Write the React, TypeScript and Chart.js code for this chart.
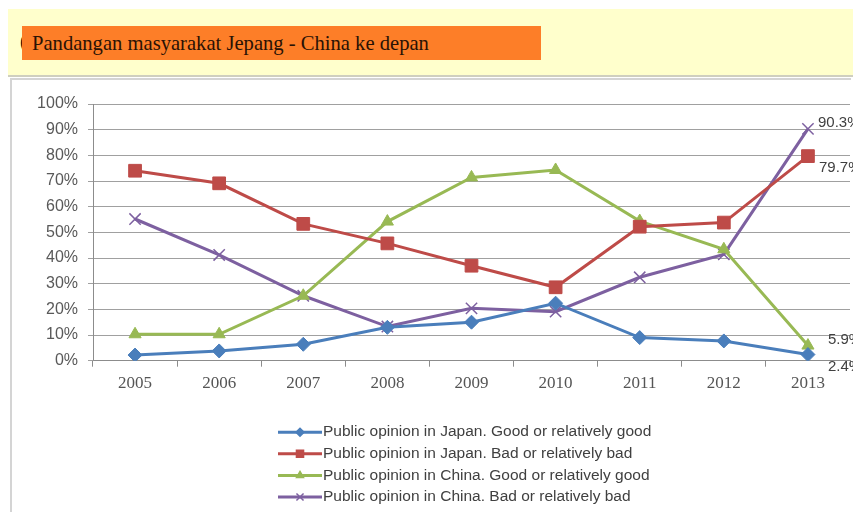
import React, { useEffect, useRef } from 'react';
import { Chart, registerables } from 'chart.js';
import { drawPoint } from 'chart.js/helpers';

Chart.register(...registerables);

const years = ['2005', '2006', '2007', '2008', '2009', '2010', '2011', '2012', '2013'];
const japanGood = [2.2, 3.8, 6.4, 13.0, 15.0, 22.4, 9.0, 7.7, 2.4];
const japanBad = [74.0, 69.1, 53.3, 45.7, 37.0, 28.6, 52.2, 53.8, 79.7];
const chinaGood = [10.3, 10.3, 25.3, 54.2, 71.4, 74.3, 54.4, 43.4, 5.9];
const chinaBad = [55.2, 41.2, 25.3, 13.3, 20.4, 19.1, 32.5, 41.4, 90.3];
const seriesLabels = [
  'Public opinion in Japan. Good or relatively good',
  'Public opinion in Japan. Bad or relatively bad',
  'Public opinion in China. Good or relatively good',
  'Public opinion in China. Bad or relatively bad',
];
const endLabels = ['2.4%', '79.7%', '5.9%', '90.3%'];
const titleText = 'Pandangan masyarakat Jepang - China ke depan';

const SANS = '"Liberation Sans", Arial, sans-serif';
const SERIF = '"Liberation Serif", "Times New Roman", serif';

const styles = [
  { color: '#4a7ebb', point: 'rectRot', radius: 7, legendRadius: 4, dx: 20, dy: 12 },
  { color: '#be4b48', point: 'rect', radius: 9, legendRadius: 5, dx: 11, dy: 12 },
  { color: '#98b954', point: 'triangle', radius: 7, legendRadius: 4, dx: 20, dy: -6 },
  { color: '#7d60a0', point: 'crossRot', radius: 8, legendRadius: 5, dx: 10, dy: -6 },
];

export default function App() {
  const ref = useRef<HTMLCanvasElement | null>(null);

  useEffect(() => {
    document.documentElement.style.overflow = 'hidden';
    document.body.style.overflow = 'hidden';
    const canvas = ref.current;
    if (!canvas) return;
    const values = [japanGood, japanBad, chinaGood, chinaBad];

    const endLabelPlugin = {
      id: 'endLabels',
      afterDatasetsDraw(chart: any) {
        const ctx = chart.ctx;
        ctx.save();
        ctx.font = `15px ${SANS}`;
        ctx.fillStyle = '#404040';
        ctx.textAlign = 'left';
        ctx.textBaseline = 'middle';
        chart.data.datasets.forEach((ds: any, i: number) => {
          const meta = chart.getDatasetMeta(i);
          const pt = meta.data[meta.data.length - 1];
          const st = styles[i];
          ctx.fillText(endLabels[i], pt.x + st.dx, pt.y + st.dy);
        });
        ctx.restore();
      },
    };

    const legendPlugin = {
      id: 'stackLegend',
      afterDraw(chart: any) {
        const ctx = chart.ctx;
        const area = chart.chartArea;
        const x0 = area.left + 185;
        const y0 = area.bottom + 71.5;
        const rowH = 21.6;
        ctx.save();
        chart.data.datasets.forEach((ds: any, i: number) => {
          const st = styles[i];
          const y = y0 + i * rowH;
          ctx.strokeStyle = st.color;
          ctx.lineWidth = 3;
          ctx.beginPath();
          ctx.moveTo(x0, y);
          ctx.lineTo(x0 + 44, y);
          ctx.stroke();
          ctx.fillStyle = st.color;
          ctx.strokeStyle = st.color;
          ctx.lineWidth = 1.5;
          drawPoint(ctx, { pointStyle: st.point, radius: st.legendRadius, borderWidth: 1.5, rotation: 0 }, x0 + 22, y);
          ctx.font = `15.5px ${SANS}`;
          ctx.fillStyle = '#404040';
          ctx.textAlign = 'left';
          ctx.textBaseline = 'middle';
          ctx.fillText(ds.label, x0 + 45, y);
        });
        ctx.restore();
      },
    };

    const chart = new Chart(canvas, {
      type: 'line',
      data: {
        labels: years,
        datasets: values.map((v, i) => ({
          label: seriesLabels[i],
          data: v,
          borderColor: styles[i].color,
          backgroundColor: styles[i].color,
          borderWidth: 3,
          pointStyle: styles[i].point as any,
          pointRadius: styles[i].radius,
          pointBorderWidth: i === 3 ? 1.5 : 1,
          pointBackgroundColor: styles[i].color,
          pointBorderColor: styles[i].color,
          tension: 0,
        })),
      },
      options: {
        responsive: false,
        animation: false,
        events: [],
        layout: { padding: { top: 24, right: 11, left: 0, bottom: 0 } },
        plugins: { legend: { display: false }, tooltip: { enabled: false } },
        scales: {
          x: {
            offset: true,
            grid: { offset: true, drawOnChartArea: false, drawTicks: true, tickLength: 6, color: '#8c8c8c' },
            border: { color: '#8c8c8c', width: 1 },
            ticks: { font: { family: SERIF, size: 17 }, color: '#555555', padding: 7, maxRotation: 0 },
            afterFit: (scale: any) => { scale.height = 151.3; },
          },
          y: {
            min: 0,
            max: 100,
            ticks: {
              stepSize: 10,
              callback: (v: any) => `${v}%`,
              font: { family: SANS, size: 16 },
              color: '#595959',
              padding: 10,
            },
            grid: { color: '#a0a0a0', tickLength: 5, lineWidth: 1 },
            border: { color: '#8c8c8c', width: 1 },
            afterFit: (scale: any) => { scale.width = 81; },
          },
        },
      },
      plugins: [endLabelPlugin, legendPlugin],
    });
    return () => chart.destroy();
  }, []);

  return (
    <div style={{ position: 'relative', width: 845, height: 504 }}>
      <div
        style={{
          position: 'absolute', left: 0, top: 1, width: 848, height: 66,
          background: '#ffffcc', borderBottom: '2px solid #cfcfbf',
        }}
      />
      <span
        style={{
          position: 'absolute', left: 12, top: 22, fontFamily: SERIF, fontSize: 20, color: '#2a1205',
        }}
      >(</span>
      <div
        style={{
          position: 'absolute', left: 14, top: 18, width: 519, height: 34, background: '#fd7e28',
          fontFamily: SERIF, fontSize: 20.6, color: '#2a1205', lineHeight: '34px', paddingLeft: 10,
          boxSizing: 'border-box', whiteSpace: 'nowrap',
        }}
      >{titleText}</div>
      <div
        style={{
          position: 'absolute', left: 2, top: 70, width: 841, height: 434,
          borderLeft: '2px solid #d4d4d4', borderTop: '2px solid #d4d4d4', boxSizing: 'border-box',
        }}
      />
      <canvas
        ref={ref}
        width={849}
        height={432}
        style={{ position: 'absolute', left: 4, top: 72, width: 849, height: 432 }}
      />
    </div>
  );
}
